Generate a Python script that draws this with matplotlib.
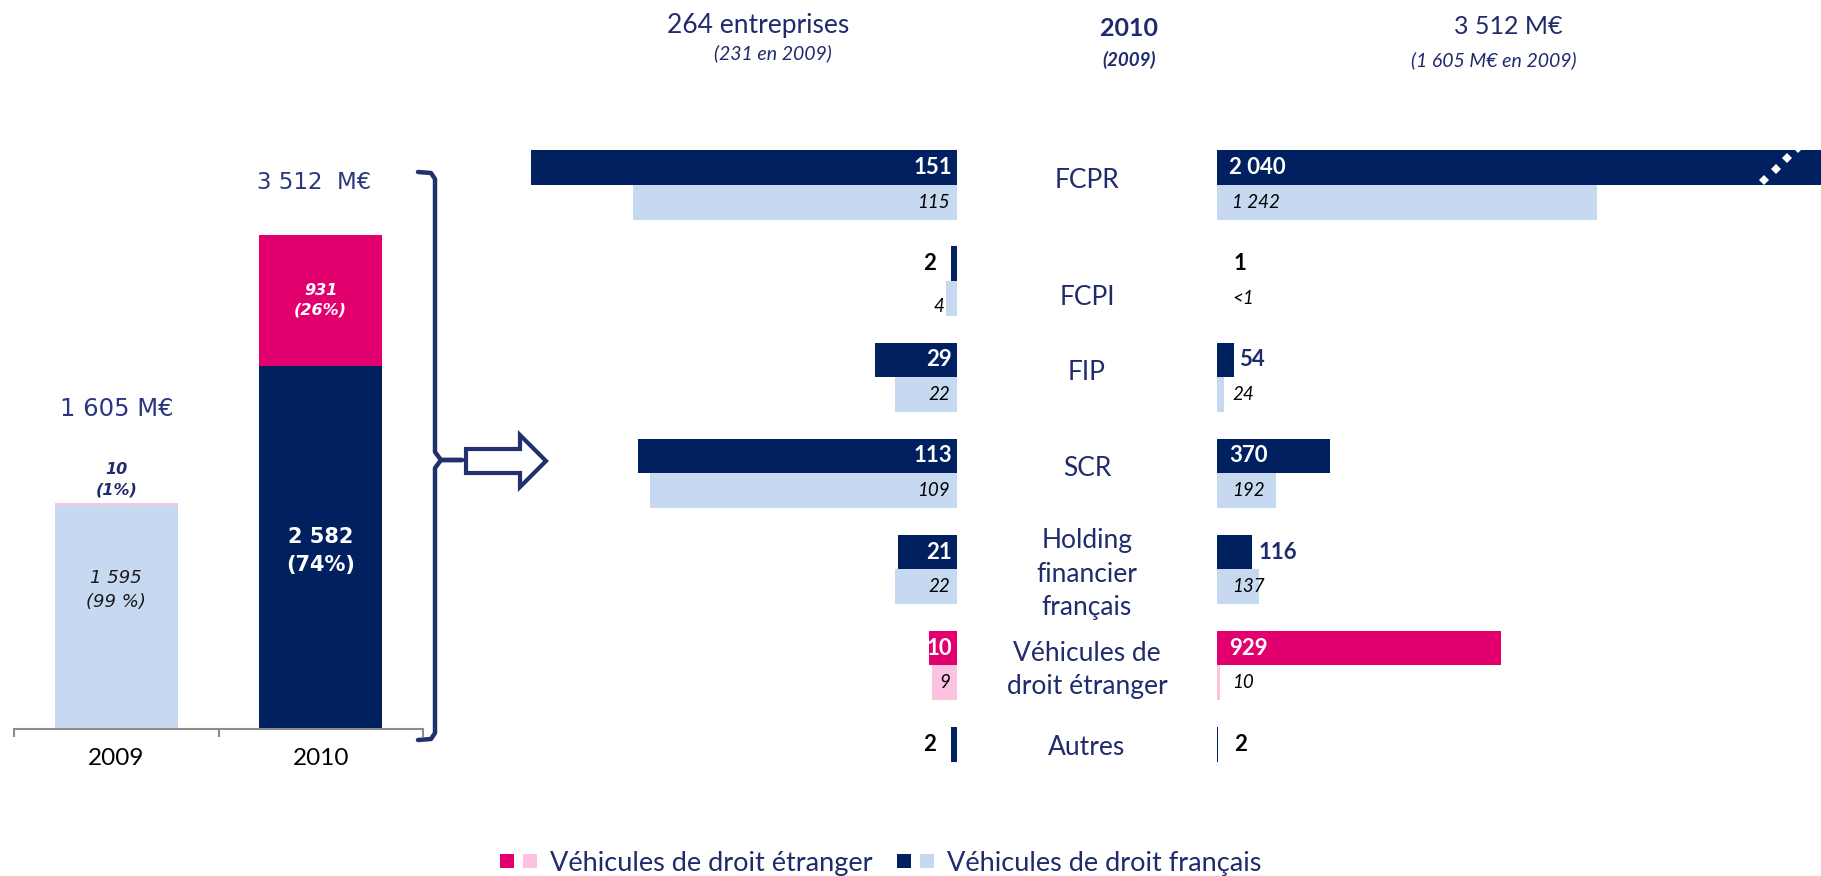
import numpy as np
import matplotlib.pyplot as plt
import matplotlib.transforms as mtransforms
from matplotlib.lines import Line2D
from matplotlib.patches import Polygon
from matplotlib.legend_handler import HandlerTuple

# ---- data ----
years = ["2009", "2010"]
fr_amount = [1595, 2582]          # véhicules de droit français (M€)
et_amount = [10, 931]             # véhicules de droit étranger (M€)
fr_share = ["99 %", "74%"]
et_share = ["1%", "26%"]
totals = [1605, 3512]

categories = ["FCPR", "FCPI", "FIP", "SCR",
              "Holding\nfinancier\nfrançais",
              "Véhicules de\ndroit étranger", "Autres"]
is_foreign = [False, False, False, False, False, True, False]
nb_2010 = [151, 2, 29, 113, 21, 10, 2]            # nombre d'entreprises
nb_2009 = [115, 4, 22, 109, 22, 9, np.nan]
mt_2010 = [2040, 1, 54, 370, 116, 929, 2]          # montants (M€)
mt_2009 = [1242, 0.5, 24, 192, 137, 10, np.nan]    # 0.5 -> "<1"

# ---- style ----
NAVY = "#002060"
LIGHT = "#c6d9f1"
PINK = "#e2006f"
LPINK = "#fbc3df"
TXT = "#1f2b6c"
LINE = "#22306e"
GREY = "#8c8c8c"
LATO = ["Lato", "DejaVu Sans"]

W, H = 1821, 876
fig = plt.figure(figsize=(W / 100, H / 100), dpi=100)


def box(x0, y0, x1, y1):
    """pixel box (from top-left) -> figure rect"""
    return [x0 / W, 1 - y1 / H, (x1 - x0) / W, (y1 - y0) / H]


def fmt(v):
    if v < 1:
        return "<1"
    return f"{int(v):,}".replace(",", " ")


PT = 0.72  # px -> pt

# =====================================================================
# stacked bars 2009 / 2010
# =====================================================================
axL = fig.add_axes(box(14, 166, 423, 729))
x = np.arange(len(years))
axL.bar(x, fr_amount, width=0.6, color=[LIGHT, NAVY])
axL.bar(x, et_amount, bottom=fr_amount, width=0.6, color=[LPINK, PINK])
axL.set_xlim(-0.5, 1.5)
axL.set_ylim(0, 4000)
for s in ["left", "right", "top"]:
    axL.spines[s].set_visible(False)
axL.spines["bottom"].set_color(GREY)
axL.spines["bottom"].set_linewidth(1.5)
axL.set_yticks([])
axL.set_xticks(x, years, fontsize=17.5, family=LATO)
axL.set_xticks([-0.5, 0.5, 1.5], minor=True)
axL.tick_params(axis="x", which="major", length=0, pad=14)
axL.tick_params(axis="x", which="minor", length=6, width=1.5, color=GREY)

# 2009
axL.text(0, fr_amount[0] * 0.62, f"{fmt(fr_amount[0])}\n({fr_share[0]})",
         ha="center", va="center", fontsize=13, style="italic",
         color="#1a1a1a", linespacing=1.4)
axL.text(0, totals[0] + 165, f"{et_amount[0]}\n({et_share[0]})",
         ha="center", va="center", fontsize=11.5, style="italic",
         weight="bold", color=TXT, linespacing=1.4)
axL.text(0, totals[0] + 670, f"{fmt(totals[0])} M€", ha="center",
         va="center", fontsize=17.5, color="#2a3780")
# 2010
axL.text(1, fr_amount[1] * 0.49, f"{fmt(fr_amount[1])}\n({fr_share[1]})",
         ha="center", va="center", fontsize=15, weight="bold",
         color="white", linespacing=1.45)
axL.text(1, fr_amount[1] + et_amount[1] / 2, f"{et_amount[1]}\n({et_share[1]})",
         ha="center", va="center", fontsize=11.5, style="italic",
         weight="bold", color="white", linespacing=1.4)
axL.text(0.97, totals[1] + 370, f"{fmt(totals[1])}  M€", ha="center",
         va="center", fontsize=16.5, color="#2a3780")

# accolade + flèche
pix = lambda pts: ([p[0] / W for p in pts], [1 - p[1] / H for p in pts])
for pts in ([(418, 172), (431, 173), (435, 179), (435, 452), (441, 460), (462, 460)],
            [(462, 460), (441, 460), (435, 468), (435, 733), (431, 739), (418, 740)]):
    xs, ys = pix(pts)
    fig.add_artist(Line2D(xs, ys, transform=fig.transFigure, color=LINE,
                          lw=3.2, solid_joinstyle="round", solid_capstyle="round"))
arrow = [(466, 449), (520, 449), (520, 435), (546, 461),
         (520, 487), (520, 473), (466, 473)]
fig.add_artist(Polygon([(p[0] / W, 1 - p[1] / H) for p in arrow], closed=True,
                       transform=fig.transFigure, facecolor="white",
                       edgecolor=LINE, lw=3))

# =====================================================================
# détail par type de véhicule
# =====================================================================
rows = np.arange(len(categories))
c_dark = [PINK if f else NAVY for f in is_foreign]
c_light = [LPINK if f else LIGHT for f in is_foreign]
YLIM = (6.4, -0.468)
BH = 0.36

axA = fig.add_axes(box(520, 140, 957, 800))
axA.barh(rows - 0.18, nb_2010, height=BH, color=c_dark)
axA.barh(rows + 0.18, nb_2009, height=BH, color=c_light)
axA.set_xlim(155, 0)
axA.set_ylim(*YLIM)
axA.axis("off")

axB = fig.add_axes(box(1217, 140, 1821, 800))
axB.barh(rows - 0.18, mt_2010, height=BH, color=c_dark)
axB.barh(rows + 0.18, mt_2009, height=BH, color=c_light)
axB.set_xlim(0, 1974)
axB.set_ylim(*YLIM)
axB.axis("off")

bold = dict(fontsize=16, weight="bold", family=LATO, va="center")
ital = dict(fontsize=13.5, style="italic", family=LATO, va="center", color="black")

for i in rows:
    # nombre d'entreprises (barres vers la gauche)
    v = nb_2010[i]
    if v >= 10:
        axA.annotate(fmt(v), (0, i - 0.18), xytext=(-5 * PT, 0),
                     textcoords="offset points", ha="right", color="white", **bold)
    else:
        axA.annotate(fmt(v), (v, i - 0.18), xytext=(-15 * PT, 0),
                     textcoords="offset points", ha="right", color="black", **bold)
    v = nb_2009[i]
    if not np.isnan(v):
        if v >= 9:
            axA.annotate(fmt(v), (0, i + 0.18), xytext=(-7 * PT, 0),
                         textcoords="offset points", ha="right", **ital)
        else:
            axA.annotate(fmt(v), (v, i + 0.18), xytext=(-1 * PT, -8 * PT),
                         textcoords="offset points", ha="right", **ital)

    # montants (barres vers la droite)
    v = mt_2010[i]
    if v >= 300:
        axB.annotate(fmt(v), (0, i - 0.18), xytext=(12 * PT, 0),
                     textcoords="offset points", ha="left", color="white", **bold)
    elif v >= 5:
        axB.annotate(fmt(v), (v, i - 0.18), xytext=(6 * PT, 0),
                     textcoords="offset points", ha="left", color=TXT, **bold)
    else:
        axB.annotate(fmt(v), (0, i - 0.18), xytext=(17 * PT, 0),
                     textcoords="offset points", ha="left", color="black", **bold)
    v = mt_2009[i]
    if not np.isnan(v):
        axB.annotate(fmt(v), (0, i + 0.18), xytext=(15 * PT, 0),
                     textcoords="offset points", ha="left", **ital)

# rupture d'échelle sur la barre FCPR
brk = mtransforms.blended_transform_factory(axB.transAxes, axB.transData)
axB.plot([0.906, 0.925, 0.944, 0.962], [-0.05, -0.166, -0.28, -0.385], "D",
         color="white", ms=5, mew=0, transform=brk)

# libellés des catégories
lab_tr = mtransforms.blended_transform_factory(fig.transFigure, axA.transData)
for i, cat in enumerate(categories):
    if np.isnan(nb_2009[i]):
        yy = i - 0.15
    elif nb_2010[i] < 5:          # petite barre : libellé descendu
        yy = i + 0.17
    elif "\n" in cat:
        yy = i + 0.05
    else:
        yy = i - 0.05
    fig.text(1087 / W, yy, cat, transform=lab_tr, ha="center", va="center",
             fontsize=19, family=LATO, color=TXT, linespacing=1.42)

# en-têtes
head = dict(family=LATO, color=TXT, ha="center", va="center")
fig.text(758 / W, 1 - 26 / H, "264 entreprises", fontsize=19, **head)
fig.text(773 / W, 1 - 53 / H, "(231 en 2009)", fontsize=14, style="italic", **head)
fig.text(1129 / W, 1 - 29 / H, "2010", fontsize=18, weight="bold", **head)
fig.text(1129 / W, 1 - 60 / H, "(2009)", fontsize=13.5, weight="bold",
         style="italic", **head)
fig.text(1508 / W, 1 - 26 / H, "3 512 M€", fontsize=18, **head)
fig.text(1494 / W, 1 - 60 / H, "(1 605 M€ en 2009)", fontsize=14,
         style="italic", **head)

# légende
sq = lambda c: Line2D([], [], marker="s", ls="", color=c, ms=10.5, mew=0)
fig.legend(handles=[(sq(PINK), sq(LPINK)), (sq(NAVY), sq(LIGHT))],
           labels=["Véhicules de droit étranger", "Véhicules de droit français"],
           handler_map={tuple: HandlerTuple(ndivide=None, pad=0.3)},
           ncol=2, frameon=False, loc="center", bbox_to_anchor=(881 / W, 13 / H),
           prop={"family": LATO, "size": 19.5}, labelcolor=TXT,
           handlelength=1.35, handletextpad=0.5, columnspacing=0.9,
           borderpad=0, borderaxespad=0)

fig.savefig("out.png", dpi=100)
